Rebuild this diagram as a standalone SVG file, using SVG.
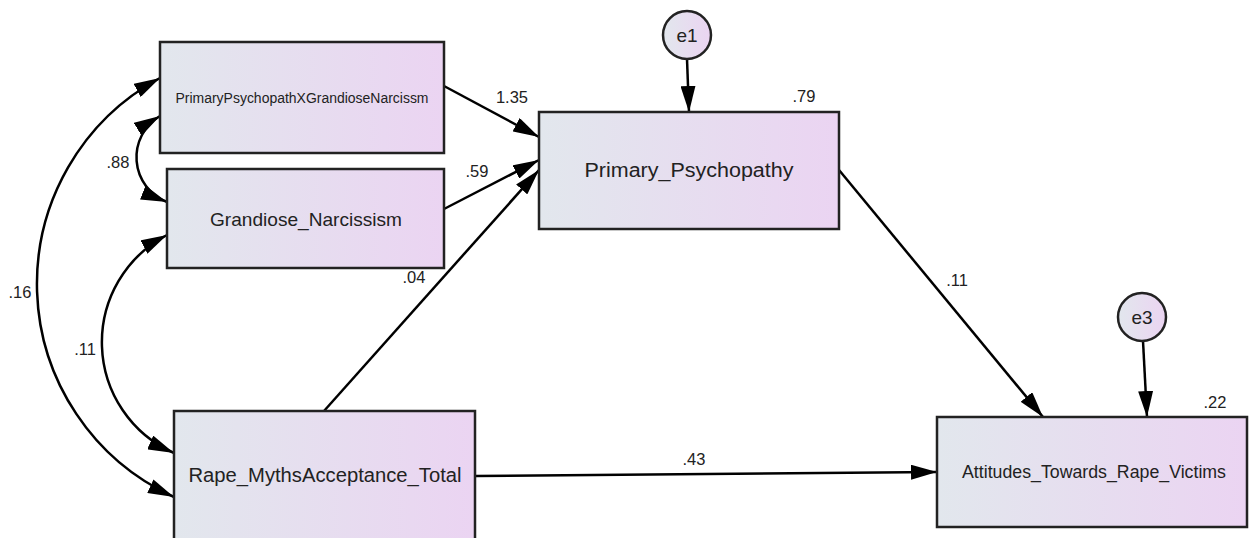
<svg xmlns="http://www.w3.org/2000/svg" width="1250" height="538" viewBox="0 0 1250 538">
<defs>
<linearGradient id="g" x1="0" y1="0" x2="1" y2="0">
<stop offset="0" stop-color="#e2e7ed"/>
<stop offset="1" stop-color="#ebd4f2"/>
</linearGradient>
<marker id="ah" markerUnits="userSpaceOnUse" markerWidth="26" markerHeight="15" refX="26" refY="7.5" orient="auto-start-reverse" viewBox="0 0 26 15">
<path d="M0,0 L26,7.5 L0,15 z" fill="#000"/>
</marker>
</defs>
<style>
.box{fill:url(#g);stroke:#222;stroke-width:2.5}
.t{font-family:"Liberation Sans",Arial,sans-serif;fill:#222;text-anchor:middle}
.lbl{font-family:"Liberation Sans",Arial,sans-serif;font-size:16.5px;fill:#222;text-anchor:middle}
.c{fill:none;stroke:#000;stroke-width:2.5}
.a{marker-end:url(#ah)}
.d{marker-start:url(#ah);marker-end:url(#ah)}
</style>
<rect width="1250" height="538" fill="#fff"/>
<g id="connectors">
<line class="c a" x1="444" y1="86" x2="539" y2="137"/>
<line class="c a" x1="444" y1="209" x2="539" y2="160"/>
<line class="c a" x1="324" y1="411" x2="539" y2="170"/>
<line class="c a" x1="687" y1="59" x2="689" y2="112"/>
<line class="c a" x1="839" y1="170" x2="1043" y2="417"/>
<line class="c a" x1="1143" y1="341" x2="1147" y2="417"/>
<line class="c a" x1="475" y1="476" x2="937" y2="472"/>
<path class="c d" d="M160,116 A48,48 0 0,0 167,202"/>
<path class="c d" d="M160,78 A234,234 0 0,0 174,497"/>
<path class="c d" d="M167,235 A121,121 0 0,0 174,453"/>
<text class="lbl" x="512" y="103">1.35</text>
<text class="lbl" x="804" y="102">.79</text>
<text class="lbl" x="477" y="177">.59</text>
<text class="lbl" x="414" y="283">.04</text>
<text class="lbl" x="957" y="286">.11</text>
<text class="lbl" x="1215" y="408">.22</text>
<text class="lbl" x="694" y="465">.43</text>
<text class="lbl" x="118" y="168">.88</text>
<text class="lbl" x="20" y="298">.16</text>
<text class="lbl" x="85" y="355">.11</text>
</g>
<g id="ppxgn">
<rect class="box" x="160" y="42" width="284" height="111"/>
<text class="t" x="302" y="103" font-size="14" textLength="253" lengthAdjust="spacingAndGlyphs">PrimaryPsychopathXGrandioseNarcissm</text>
</g>
<g id="gn">
<rect class="box" x="167" y="169" width="277" height="99"/>
<text class="t" x="306" y="226" font-size="18.5" textLength="192" lengthAdjust="spacingAndGlyphs">Grandiose_Narcissism</text>
</g>
<g id="rma">
<rect class="box" x="174" y="411" width="301" height="140"/>
<text class="t" x="325" y="482" font-size="19.5" textLength="273" lengthAdjust="spacingAndGlyphs">Rape_MythsAcceptance_Total</text>
</g>
<g id="pp">
<rect class="box" x="539" y="112" width="300" height="117"/>
<text class="t" x="689" y="177" font-size="19.5" textLength="209" lengthAdjust="spacingAndGlyphs">Primary_Psychopathy</text>
</g>
<g id="atrv">
<rect class="box" x="937" y="417" width="310" height="110"/>
<text class="t" x="1094" y="478" font-size="17.5" textLength="264" lengthAdjust="spacingAndGlyphs">Attitudes_Towards_Rape_Victims</text>
</g>
<g id="e1">
<circle class="box" cx="687" cy="35" r="24"/>
<text class="t" x="687" y="42" font-size="19">e1</text>
</g>
<g id="e3">
<circle class="box" cx="1142" cy="317" r="24"/>
<text class="t" x="1142" y="324" font-size="19">e3</text>
</g>
</svg>
